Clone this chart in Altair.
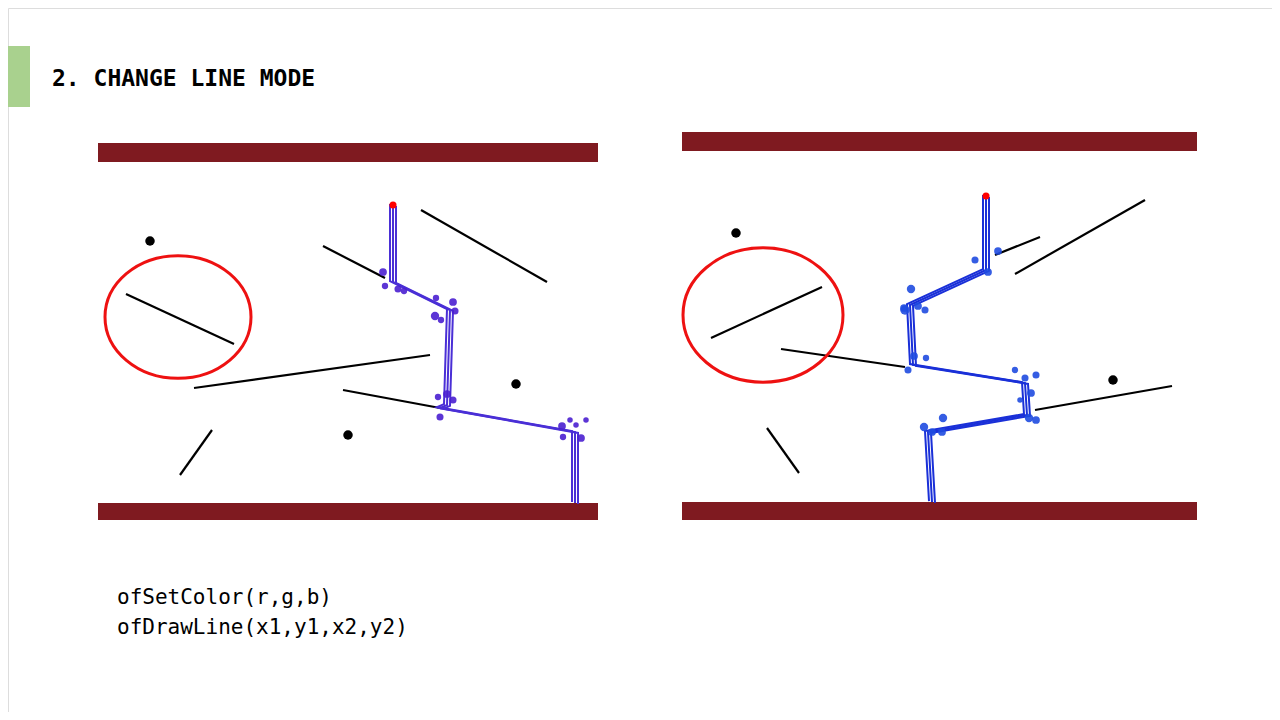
import altair as alt
import pandas as pd

# slide coordinates in pixels (x right, y down)
bar_x = [98, 98, 682, 682]
bar_x2 = [598, 598, 1197, 1197]
bar_y = [143, 503, 132, 502]
bar_y2 = [162, 520, 151, 520]

seg_x = [323, 421, 126, 194, 343, 212, 711, 781, 1015, 995, 1035, 767]
seg_y = [246, 210, 294, 388, 390, 430, 338, 349, 274, 255, 410, 428]
seg_x2 = [385, 547, 234, 430, 440, 180, 822, 905, 1145, 1040, 1172, 799]
seg_y2 = [278, 282, 344, 355, 408, 475, 287, 367, 200, 237, 386, 473]

dot_x = [150, 516, 348, 736, 1113]
dot_y = [241, 384, 435, 233, 380]

ring_x = [178, 763]
ring_y = [317, 315]

left_px = [393, 393, 450, 447, 440, 575, 575]
left_py = [205, 282, 310, 405, 408, 432, 503]
right_px = [986, 986, 910, 913, 1025, 1027, 928, 932]
right_py = [196, 270, 305, 365, 383, 415, 432, 502]
offsets = [-3, 0, 3]

blob_lx = [383, 385, 398, 404, 436, 453, 435, 441, 455, 438, 447, 453, 440, 562, 570, 581, 586, 576, 563]
blob_ly = [272, 286, 289, 291, 298, 302, 316, 320, 311, 397, 394, 400, 417, 426, 420, 438, 420, 425, 437]
blob_ls = [60, 40, 50, 40, 40, 60, 70, 40, 50, 40, 60, 50, 50, 60, 30, 60, 30, 30, 40]
blob_rx = [975, 988, 998, 911, 905, 918, 925, 904, 914, 926, 908, 1015, 1025, 1036, 1031, 1020, 1029, 1036, 943, 924, 932, 942]
blob_ry = [260, 272, 251, 289, 310, 306, 310, 308, 356, 358, 370, 370, 378, 375, 393, 400, 418, 420, 418, 427, 432, 432]
blob_rs = [50, 60, 60, 70, 90, 60, 50, 60, 60, 40, 50, 40, 50, 50, 60, 30, 70, 60, 70, 70, 60, 60]

W, H = 1264, 704
X = alt.Scale(domain=[8, 8 + W])
Y = alt.Scale(domain=[8, 8 + H], reverse=True)


def enc(chart, **kw):
    return chart.encode(x=alt.X("x:Q", scale=X, axis=None), y=alt.Y("y:Q", scale=Y, axis=None), **kw)


bars = enc(alt.Chart(pd.DataFrame({"x": bar_x, "x2": bar_x2, "y": bar_y, "y2": bar_y2})).mark_rect(color="#7f1a20"),
           x2="x2", y2="y2")
green = enc(alt.Chart(pd.DataFrame({"x": [0], "x2": [30], "y": [46], "y2": [107]})).mark_rect(color="#a9d18e"),
            x2="x2", y2="y2")
segs = enc(alt.Chart(pd.DataFrame({"x": seg_x, "y": seg_y, "x2": seg_x2, "y2": seg_y2})).mark_rule(
    color="black", strokeWidth=2.2), x2="x2", y2="y2")
dots = enc(alt.Chart(pd.DataFrame({"x": dot_x, "y": dot_y})).mark_circle(color="black", size=90, opacity=1))

ellipse = "M -1 0 A 1 0.84 0 1 1 1 0 A 1 0.84 0 1 1 -1 0 Z"
rings = enc(alt.Chart(pd.DataFrame({"x": ring_x, "y": ring_y, "s": [146 ** 2, 160 ** 2]})).mark_point(
    shape=ellipse, filled=False, color="#ee1111", strokeWidth=3, opacity=1),
    size=alt.Size("s:Q", scale=None, legend=None))

rows = []
for path, px, py in [("L", left_px, left_py), ("R", right_px, right_py)]:
    for k, o in enumerate(offsets):
        for i, (a, b) in enumerate(zip(px, py)):
            rows.append({"id": f"{path}{k}", "side": path, "x": a + o, "y": b + o * 0.3, "o": i})
paths = pd.DataFrame(rows)
lines_l = enc(alt.Chart(paths[paths.side == "L"]).mark_line(color="#4a2fd6", strokeWidth=2),
              detail="id:N", order="o:Q")
lines_r = enc(alt.Chart(paths[paths.side == "R"]).mark_line(color="#1a30d8", strokeWidth=2),
              detail="id:N", order="o:Q")

blobs_l = enc(alt.Chart(pd.DataFrame({"x": blob_lx, "y": blob_ly, "s": blob_ls})).mark_circle(
    color="#4a1fd0", opacity=0.9), size=alt.Size("s:Q", scale=None, legend=None))
blobs_r = enc(alt.Chart(pd.DataFrame({"x": blob_rx, "y": blob_ry, "s": blob_rs})).mark_circle(
    color="#1f4be0", opacity=0.9), size=alt.Size("s:Q", scale=None, legend=None))
tips = enc(alt.Chart(pd.DataFrame({"x": [393, 986], "y": [205, 196]})).mark_circle(color="red", size=50, opacity=1))

title = enc(alt.Chart(pd.DataFrame({"x": [52], "y": [79], "t": ["2. CHANGE LINE MODE"]})).mark_text(
    align="left", baseline="middle", font="DejaVu Sans Mono", fontSize=23, fontWeight="bold", color="black"),
    text="t:N")
code = enc(alt.Chart(pd.DataFrame({"x": [117, 117], "y": [598, 628],
                                   "t": ["ofSetColor(r,g,b)", "ofDrawLine(x1,y1,x2,y2)"]})).mark_text(
    align="left", baseline="middle", font="DejaVu Sans Mono", fontSize=21, color="black"), text="t:N")

chart = alt.layer(green, bars, segs, dots, rings, lines_l, lines_r, blobs_l, blobs_r, tips, title, code).properties(
    width=W, height=H, padding=0, autosize=alt.AutoSizeParams(type="none")
).configure_view(strokeWidth=0).configure(background="white")

chart.save("out.html", embed_options={"renderer": "svg", "actions": False})
